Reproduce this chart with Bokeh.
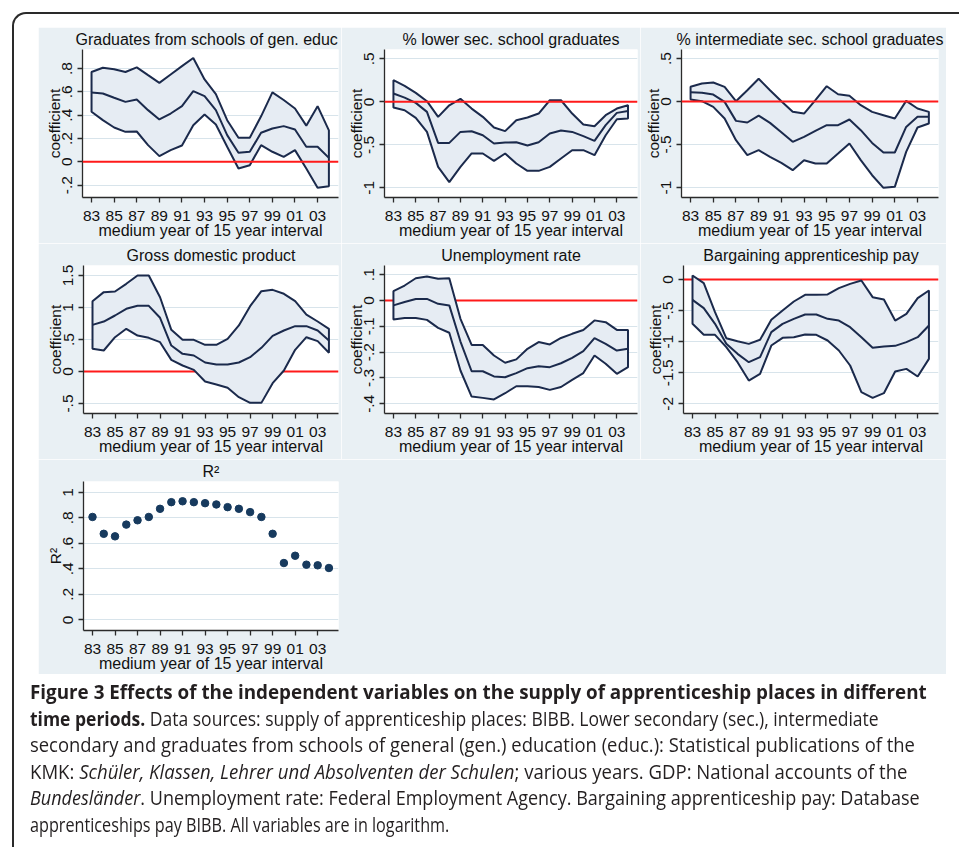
from bokeh.plotting import figure
from bokeh.layouts import column, row
from bokeh.models import FixedTicker, Span, Div, Spacer
from bokeh.embed import file_html
from bokeh.resources import INLINE

# ---------------- data ----------------
years = list(range(1983, 2005))
tick_years = [1983, 1985, 1987, 1989, 1991, 1993, 1995, 1997, 1999, 2001, 2003]
tick_labels = ["83", "85", "87", "89", "91", "93", "95", "97", "99", "01", "03"]

grad_hi = [0.77, 0.806, 0.794, 0.77, 0.81, 0.743, 0.677, 0.749, 0.82, 0.89, 0.706, 0.58,
           0.357, 0.206, 0.206, 0.39, 0.595, 0.53, 0.457, 0.31, 0.477, 0.27]
grad_mid = [0.594, 0.586, 0.549, 0.514, 0.534, 0.443, 0.363, 0.414, 0.477, 0.606, 0.563, 0.443,
            0.229, 0.077, 0.086, 0.249, 0.286, 0.306, 0.277, 0.129, 0.129, 0.034]
grad_lo = [0.429, 0.357, 0.294, 0.257, 0.26, 0.143, 0.049, 0.10, 0.14, 0.314, 0.406, 0.32,
           0.129, -0.057, -0.029, 0.143, 0.086, 0.043, 0.10, -0.057, -0.223, -0.209]

lower_hi = [0.252, 0.186, 0.105, 0.008, -0.174, -0.04, 0.035, -0.078, -0.174, -0.298, -0.34, -0.213,
            -0.182, -0.136, 0.019, 0.019, -0.136, -0.264, -0.283, -0.155, -0.078, -0.04]
lower_mid = [0.097, 0.05, -0.012, -0.116, -0.477, -0.477, -0.349, -0.341, -0.388, -0.484, -0.473, -0.469,
             -0.508, -0.469, -0.368, -0.333, -0.349, -0.399, -0.453, -0.271, -0.128, -0.105]
lower_lo = [-0.066, -0.097, -0.186, -0.349, -0.756, -0.934, -0.756, -0.60, -0.60, -0.686, -0.60, -0.717,
            -0.802, -0.802, -0.756, -0.659, -0.562, -0.562, -0.62, -0.388, -0.202, -0.194]

inter_hi = [0.171, 0.209, 0.221, 0.171, 0.004, 0.132, 0.264, 0.132, 0.004, -0.12, -0.14, 0.016,
            0.178, 0.085, 0.066, -0.043, -0.12, -0.159, -0.198, 0.008, -0.081, -0.12]
inter_mid = [0.109, 0.101, 0.081, -0.004, -0.225, -0.244, -0.163, -0.248, -0.357, -0.469, -0.411, -0.341,
             -0.275, -0.275, -0.209, -0.333, -0.481, -0.593, -0.593, -0.295, -0.178, -0.178]
inter_lo = [0.023, 0.004, -0.062, -0.198, -0.45, -0.624, -0.566, -0.643, -0.713, -0.798, -0.682, -0.721,
            -0.721, -0.605, -0.488, -0.682, -0.857, -1.004, -0.992, -0.585, -0.302, -0.256]

gdp_hi = [1.099, 1.24, 1.25, 1.37, 1.5, 1.5, 1.16, 0.651, 0.495, 0.495, 0.417, 0.417,
          0.51, 0.719, 1.02, 1.255, 1.276, 1.214, 1.099, 0.89, 0.781, 0.667]
gdp_mid = [0.729, 0.781, 0.875, 0.979, 1.026, 1.026, 0.839, 0.406, 0.276, 0.25, 0.141, 0.109,
           0.109, 0.141, 0.224, 0.37, 0.557, 0.641, 0.708, 0.708, 0.641, 0.484]
gdp_lo = [0.354, 0.328, 0.536, 0.667, 0.562, 0.526, 0.458, 0.182, 0.094, 0.026, -0.156, -0.203,
          -0.255, -0.401, -0.49, -0.49, -0.182, 0.016, 0.339, 0.536, 0.474, 0.292]

unemp_hi = [0.036, 0.058, 0.086, 0.093, 0.084, 0.086, -0.071, -0.172, -0.172, -0.213, -0.241, -0.228,
            -0.187, -0.161, -0.17, -0.145, -0.129, -0.114, -0.077, -0.084, -0.114, -0.114]
unemp_mid = [-0.019, -0.006, 0.006, 0.006, -0.013, -0.019, -0.159, -0.274, -0.274, -0.294, -0.297, -0.281,
             -0.262, -0.255, -0.258, -0.243, -0.222, -0.196, -0.146, -0.168, -0.194, -0.187]
unemp_lo = [-0.074, -0.068, -0.068, -0.075, -0.106, -0.125, -0.271, -0.372, -0.377, -0.383, -0.359, -0.332,
            -0.332, -0.335, -0.346, -0.335, -0.307, -0.281, -0.213, -0.245, -0.284, -0.258]

pay_hi = [0.064, -0.059, -0.525, -0.944, -0.992, -1.035, -0.97, -0.649, -0.499, -0.354, -0.247, -0.247,
          -0.241, -0.139, -0.07, -0.016, -0.284, -0.322, -0.66, -0.552, -0.3, -0.177]
pay_mid = [-0.327, -0.461, -0.713, -1.035, -1.196, -1.33, -1.249, -0.847, -0.713, -0.633, -0.563, -0.563,
           -0.633, -0.66, -0.767, -0.928, -1.099, -1.078, -1.067, -1.008, -0.928, -0.74]
pay_lo = [-0.713, -0.89, -0.89, -1.088, -1.33, -1.625, -1.517, -1.062, -0.938, -0.928, -0.885, -0.89,
          -0.981, -1.142, -1.383, -1.812, -1.903, -1.828, -1.48, -1.437, -1.56, -1.276]

r2 = [0.807, 0.675, 0.655, 0.747, 0.781, 0.807, 0.871, 0.923, 0.93, 0.923, 0.915, 0.905,
      0.884, 0.871, 0.845, 0.807, 0.675, 0.446, 0.503, 0.433, 0.428, 0.407]

# ---------------- style ----------------
BG = "#e9f0f4"
BAND = "#e6ecf3"
NAVY = "#1b2a4c"
DOT = "#173a5e"
GRID = "#d8e4eb"
AXIS = "#2b2b2b"
FONT = "Liberation Sans"
XR = (1982.2, 2004.85)
XTITLE = "medium year of 15 year interval"


def panel(title, ylabel, yr, yticks, ylabels, w, h, ml, mr, mt, mb, title_left=None):
    p = figure(width=w, height=h, x_range=XR, y_range=yr, title=title,
               output_backend="svg", toolbar_location=None,
               min_border_left=ml, min_border_right=mr,
               min_border_top=mt, min_border_bottom=mb)
    p.background_fill_color = "white"
    p.border_fill_color = BG
    p.outline_line_color = None
    p.title.text_font = FONT
    p.title.text_font_size = "16px"
    p.title.text_font_style = "normal"
    p.title.text_color = "#111111"
    p.title.standoff = 3
    if title_left is None:
        p.title.align = "center"
    else:
        p.title.align = "left"
        p.title.offset = title_left
    xt = FixedTicker(ticks=tick_years, minor_ticks=[])
    yt = FixedTicker(ticks=yticks, minor_ticks=[])
    p.xaxis.ticker = xt
    p.yaxis.ticker = yt
    p.ygrid.ticker = yt
    p.xgrid.visible = False
    p.ygrid.grid_line_color = GRID
    p.ygrid.grid_line_width = 1.2
    p.xaxis.major_label_overrides = dict(zip(tick_years, tick_labels))
    p.yaxis.major_label_overrides = dict(zip(yticks, ylabels))
    p.xaxis.axis_label = XTITLE
    p.yaxis.axis_label = ylabel
    for ax in (p.xaxis[0], p.yaxis[0]):
        ax.axis_line_color = AXIS
        ax.axis_line_width = 1.3
        ax.major_tick_line_color = AXIS
        ax.major_tick_line_width = 1.3
        ax.major_tick_out = 5
        ax.major_tick_in = 0
        ax.minor_tick_line_color = None
        ax.major_label_text_font = FONT
        ax.major_label_text_font_size = "15.5px"
        ax.major_label_text_color = "#111111"
        ax.axis_label_text_font = FONT
        ax.axis_label_text_font_size = "15.5px"
        ax.axis_label_text_font_style = "normal"
        ax.axis_label_text_color = "#111111"
    p.xaxis.axis_label_text_font_size = "16px"
    p.xaxis.major_label_standoff = 8
    p.xaxis.axis_label_standoff = -2
    p.yaxis.major_label_orientation = "vertical"
    p.yaxis.major_label_standoff = 5
    p.yaxis.axis_label_standoff = -3
    return p


def band(p, lo, mid, hi, red_on_top):
    zero = Span(location=0, dimension="width", line_color="#ff1a1a", line_width=2)
    if not red_on_top:
        zero.level = "underlay"
    p.add_layout(zero)
    p.patch(years + years[::-1], hi + lo[::-1], fill_color=BAND, line_color=NAVY, line_width=2)
    p.line(years, mid, line_color=NAVY, line_width=2)


p1 = panel("Graduates from schools of gen. educ", "coefficient", (-0.306, 0.963),
           [-0.2, 0, 0.2, 0.4, 0.6, 0.8], ["-.2", "0", ".2", ".4", ".6", ".8"],
           303, 216, 44, 3, 22, 46, title_left=-7)
band(p1, grad_lo, grad_mid, grad_hi, True)

p2 = panel("% lower sec. school graduates", "coefficient", (-1.112, 0.609),
           [-1, -0.5, 0, 0.5], ["-1", "-.5", "0", ".5"],
           299, 216, 43, 3, 22, 46)
band(p2, lower_lo, lower_mid, lower_hi, True)

p3 = panel("% intermediate sec. school graduates", "coefficient", (-1.116, 0.605),
           [-1, -0.5, 0, 0.5], ["-1", "-.5", "0", ".5"],
           306, 216, 41, 8, 22, 46)
band(p3, inter_lo, inter_mid, inter_hi, True)

p4 = panel("Gross domestic product", "coefficient", (-0.656, 1.656),
           [-0.5, 0, 0.5, 1, 1.5], ["-.5", "0", ".5", "1", "1.5"],
           303, 216, 45, 3, 22, 46)
band(p4, gdp_lo, gdp_mid, gdp_hi, False)

p5 = panel("Unemployment rate", "coefficient", (-0.4375, 0.1355),
           [-0.4, -0.3, -0.2, -0.1, 0, 0.1], ["-.4", "-.3", "-.2", "-.1", "0", ".1"],
           299, 216, 43, 3, 22, 46)
band(p5, unemp_lo, unemp_mid, unemp_hi, False)

p6 = panel("Bargaining apprenticeship pay", "coefficient", (-2.155, 0.225),
           [-2, -1.5, -1, -0.5, 0], ["-2", "-1.5", "-1", "-.5", "0"],
           306, 216, 43, 8, 22, 46)
band(p6, pay_lo, pay_mid, pay_hi, False)

p7 = panel("R²", "R²", (-0.083, 1.085),
           [0, 0.2, 0.4, 0.6, 0.8, 1], ["0", ".2", ".4", ".6", ".8", "1"],
           908, 215, 45, 608, 21, 44)
p7.scatter(years, r2, size=7.5, fill_color=DOT, line_color=DOT)

grid = column(row(p1, p2, p3), row(p4, p5, p6), p7)

LINE = '<div style="transform:scaleX({s}); transform-origin:0 0;">{t}</div>'
cap_lines = [
    (0.941, "<b>Figure 3 Effects of the independent variables on the supply of apprenticeship places in different</b>"),
    (0.875, "<b>time periods.</b> Data sources: supply of apprenticeship places: BIBB. Lower secondary (sec.), intermediate"),
    (0.921, "secondary and graduates from schools of general (gen.) education (educ.): Statistical publications of the"),
    (0.929, "KMK: <i>Schüler, Klassen, Lehrer und Absolventen der Schulen</i>; various years. GDP: National accounts of the"),
    (0.901, "<i>Bundesländer</i>. Unemployment rate: Federal Employment Agency. Bargaining apprenticeship pay: Database"),
    (0.810, "apprenticeships pay BIBB. All variables are in logarithm."),
]
FRAME = ('<div style="position:fixed; left:12px; top:12px; width:1000px; height:1000px; '
         'border-left:2px solid #2a2a2a; border-top:2px solid #2a2a2a; '
         'border-top-left-radius:14px; pointer-events:none;"></div>')
caption_html = (FRAME + '<div style="font-family:\'Open Sans\'; font-size:20px; line-height:26.6px; '
                'color:#231f20; white-space:nowrap;">'
                + "".join(LINE.format(s=s, t=t) for s, t in cap_lines) + "</div>")
caption = Div(text=caption_html, width=925, height=160)

root = column(Spacer(width=940, height=27),
              row(Spacer(width=38, height=647), grid),
              row(Spacer(width=25, height=160), caption))

open("out.html", "w").write(file_html(root, INLINE))
